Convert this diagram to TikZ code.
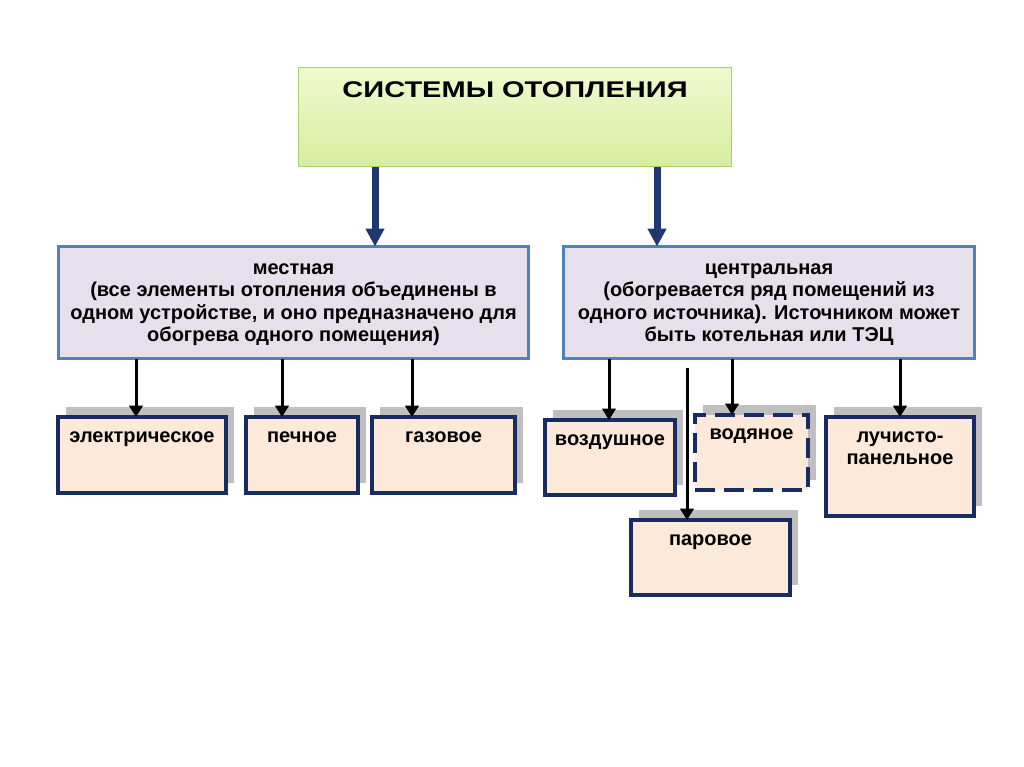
\documentclass[tikz,border=0pt]{standalone}
\usepackage{fontspec}
\setmainfont{Liberation Sans}
\newfontfamily\titlefont{Liberation Sans}[FakeStretch=1.28]
\usepackage{tikz}
\usepackage{xcolor}
\usetikzlibrary{calc}
\usetikzlibrary{arrows.meta}
\usetikzlibrary{shadows}
\definecolor{titletop}{RGB}{240,249,206}
\definecolor{titlebottom}{RGB}{214,238,160}
\definecolor{titleborder}{RGB}{170,208,110}
\definecolor{groupfill}{RGB}{229,224,236}
\definecolor{groupborder}{RGB}{79,129,189}
\definecolor{kindfill}{RGB}{253,233,217}
\definecolor{kindborder}{RGB}{24,44,98}
\definecolor{navyarrow}{RGB}{31,56,112}
\definecolor{shadowgray}{RGB}{191,191,191}
\newlength{\pxu}
\setlength{\pxu}{0.75pt}
\tikzset{
  every node/.style = {font = \bfseries\fontsize{15}{16.75}\selectfont, inner sep=0pt, outer sep=0pt}
}
\tikzset{
  title box/.style = {draw=titleborder, line width=0.75pt, top color=titletop, bottom color=titlebottom,
    font = \titlefont\bfseries\fontsize{17}{20}\selectfont}
}
\tikzset{
  group box/.style = {draw=groupborder, line width=2.25pt, fill=groupfill}
}
\tikzset{
  kind box/.style = {draw=kindborder, line width=3pt, fill=kindfill,
    drop shadow={shadow xshift=6pt, shadow yshift=7.5pt, fill=shadowgray, opacity=1}}
}
\tikzset{
  group arrow/.style = {draw=navyarrow, line width=5.25pt, -{Triangle[width=13.5pt, length=13.5pt]}}
}
\tikzset{
  kind arrow/.style = {draw=black, line width=2.25pt, -{Triangle[width=10pt, length=8.5pt]}}
}
% text hung from the top of a box: width, height, baseline drop, text
\newcommand{\boxtext}[4]{\parbox[c][#2\pxu][t]{#1\pxu}{\centering\rule{0pt}{#3\pxu}#4}}

\begin{document}
\begin{tikzpicture}[x=0.75pt, y=-0.75pt]
  \useasboundingbox[fill=white] (0,0) rectangle (1024,767);

  % Heating systems
  \node[title box] (sys) at (515,117) {\boxtext{433}{99}{30}{СИСТЕМЫ ОТОПЛЕНИЯ}};

  \node[group box] (local) at (293.5,302.5)
    {\boxtext{470}{112}{28}{местная\\(все элементы отопления объединены в\\одном устройстве, и оно предназначено для\\обогрева одного помещения)}};
  \node[group box] (central) at (769,302.5)
    {\boxtext{411}{112}{28}{центральная\\(обогревается ряд помещений из\\одного источника). Источником может\\быть котельная или ТЭЦ}};

  % Kinds
  \node[kind box] (el) at (142,455) {\boxtext{168}{76}{25}{электрическое}};
  \node[kind box] (pech) at (302,455) {\boxtext{112}{76}{25}{печное}};
  \node[kind box] (gaz) at (443.5,455) {\boxtext{143}{76}{25}{газовое}};
  \node[kind box] (vozd) at (610,457.5) {\boxtext{130}{75}{25.5}{воздушное}};
  \node[kind box, dash pattern=on 15pt off 6.75pt] (vod) at (751.5,452.5) {\boxtext{113}{75}{24.5}{водяное}};
  \node[kind box] (luch) at (900,466.5) {\boxtext{148}{99}{25.5}{лучисто-\\панельное}};
  \node[kind box] (par) at (710.5,557.5) {\boxtext{159}{75}{25.5}{паровое}};

  % Connectors
  \foreach \to/\x in {local/375, central/657} {
    \coordinate (col) at (\x,0);
    \draw[group arrow] (sys.south -| col) -- (\to.north -| col);
  }
  \foreach \from/\to/\x in {local/el/136, local/pech/282, local/gaz/412,
                            central/vozd/609, central/vod/732, central/luch/900} {
    \coordinate (col) at (\x,0);
    \draw[kind arrow] (\from.south -| col) -- (\to.north -| col);
  }
  \coordinate (parstart) at (687,368);
  \draw[kind arrow] (parstart) -- (par.north -| parstart);
\end{tikzpicture}
\end{document}
